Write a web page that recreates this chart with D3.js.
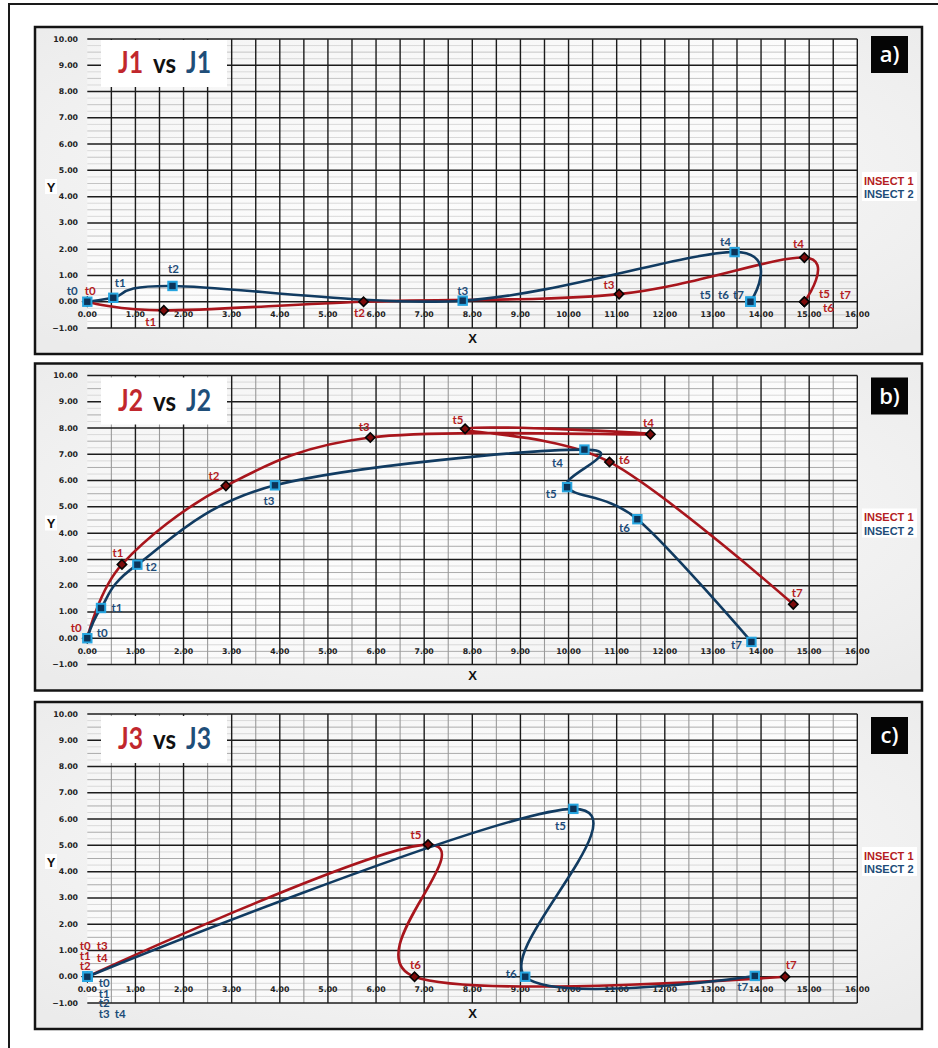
<!DOCTYPE html>
<html>
<head>
<meta charset="utf-8">
<script src="https://cdn.jsdelivr.net/npm/d3@7"></script>
<style>
  html, body { margin: 0; padding: 0; background: #ffffff; }
  svg { display: block; }
</style>
</head>
<body>
<div id="chart"></div>
<script>
// ---------------- DATA ----------------
const timeLabels = ["t0", "t1", "t2", "t3", "t4", "t5", "t6", "t7"];
const xTickValues = d3.range(0, 17, 1);
const yTickValues = d3.range(-1, 11, 1);
const panelNames = ["a)", "b)", "c)"];
const panelTitles = ["J1", "J2", "J3"];
const seriesNames = ["INSECT 1", "INSECT 2"];

// [x, y] positions at t0..t7
const j1Insect1 = [[0, 0], [1.59, -0.33], [5.74, 0], [11.05, 0.29], [14.9, 1.68], [14.9, 0], [14.9, 0], [14.9, 0]];
const j1Insect2 = [[0, 0], [0.54, 0.15], [1.77, 0.6], [7.8, 0.04], [13.45, 1.89], [13.78, 0], [13.78, 0], [13.78, 0]];
const j2Insect1 = [[0, 0], [0.72, 2.81], [2.88, 5.8], [5.88, 7.64], [11.7, 7.76], [7.85, 7.97], [10.85, 6.71], [14.67, 1.29]];
const j2Insect2 = [[0, 0], [0.285, 1.15], [1.04, 2.8], [3.9, 5.82], [10.33, 7.18], [9.97, 5.75], [11.43, 4.53], [13.8, -0.14]];
const j3Insect1 = [[0, 0], [0, 0], [0, 0], [0, 0], [0, 0], [7.08, 5.03], [6.8, 0], [14.5, 0]];
const j3Insect2 = [[0, 0], [0, 0], [0, 0], [0, 0], [0, 0], [10.1, 6.39], [9.1, 0], [13.87, 0.03]];

// ---------------- LAYOUT (label placement, pixel offsets) ----------------
const labelOffsets = [
  { red: [[3,-11],[-13,11],[-4,11],[-10,-10],[-6,-14],[20,-8],[24,6],[41,-7]],
    blue: [[-15,-11],[7,-15],[1,-17],[0,-10],[-9,-11],[-45,-7],[-27,-7],[-12,-7]] },
  { red: [[-11,-11],[-4,-12],[-12,-10],[-6,-11],[-2,-12],[-7,-9],[15,-2],[4,-12]],
    blue: [[15,-6],[16,-1],[14,2],[-6,15],[-27,13],[-16,6],[-13,8],[-15,3]] },
  { red: [[-2,-31],[-2,-21],[-2,-11],[15,-31],[15,-19],[-12,-10],[1,-12],[6,-12]],
    blue: [[17,6],[17,17],[17,26],[17,37],[33,37],[-13,17],[-14,-3],[-12,11]] }
];
const panelTops = [27, 363.5, 702];
const boxDy = [9, 14, 15];
const titleDy = [13, 14, 14];

const panelData = [
  { red: j1Insect1, blue: j1Insect2 },
  { red: j2Insect1, blue: j2Insect2 },
  { red: j3Insect1, blue: j3Insect2 }
];

// ---------------- STYLE ----------------
const RED_LINE = "#a8151c", BLUE_LINE = "#113b61";
const RED_TXT = "#b41c22", BLUE_TXT = "#1d4c78";
const W = 938, H = 1048;

const svg = d3.select("#chart").append("svg").attr("width", W).attr("height", H);
const defs = svg.append("defs");
const pg = defs.append("radialGradient").attr("id", "panelGrad").attr("cx", "50%").attr("cy", "45%").attr("r", "70%");
pg.append("stop").attr("offset", "0%").attr("stop-color", "#fdfdfd");
pg.append("stop").attr("offset", "100%").attr("stop-color", "#ebebeb");
const ag = defs.append("linearGradient").attr("id", "plotGrad").attr("x1", 0).attr("y1", 0).attr("x2", 1).attr("y2", 1);
ag.append("stop").attr("offset", "0%").attr("stop-color", "#f4f4f4");
ag.append("stop").attr("offset", "50%").attr("stop-color", "#fcfcfc");
ag.append("stop").attr("offset", "100%").attr("stop-color", "#f0f0f0");

svg.append("rect").attr("width", W).attr("height", H).attr("fill", "#ffffff");
// outer frame (left/top)
svg.append("path").attr("d", `M9,${H} V4 H${W}`).attr("fill", "none").attr("stroke", "#1a1a1a").attr("stroke-width", 2);

const x = d3.scaleLinear().domain([0, 16]).range([87.3, 857.3]);
const fmt = d3.format(".2f");

// consecutive identical positions (insect standing still) collapse to one path vertex
function pathPoints(arr) {
  return arr.filter((d, k) => k === 0 || d[0] !== arr[k - 1][0] || d[1] !== arr[k - 1][1]);
}

panelData.forEach((pd, i) => {
  const T = panelTops[i];
  const y = d3.scaleLinear().domain([-1, 10]).range([T + 301, T + 12]);
  const g = svg.append("g");

  g.append("rect").attr("x", 35).attr("y", T).attr("width", 887).attr("height", 327)
    .attr("fill", "url(#panelGrad)").attr("stroke", "#141414").attr("stroke-width", 2.5);

  g.append("rect").attr("x", x(0)).attr("y", y(10)).attr("width", x(16) - x(0)).attr("height", y(-1) - y(10))
    .attr("fill", "url(#plotGrad)");

  const grid = g.append("g");
  d3.range(-1, 10.001, 0.25).forEach(v => {
    const r = Math.round(v * 4) / 4;
    if (Math.abs(r - Math.round(r)) < 1e-6) return;
    const half = Math.abs(r * 2 - Math.round(r * 2)) < 1e-6;
    grid.append("line").attr("x1", x(0)).attr("x2", x(16)).attr("y1", y(r)).attr("y2", y(r))
      .attr("stroke", half ? (i === 0 ? "#c4c4c4" : "#ababab") : "#d9d9d9").attr("stroke-width", 1);
  });
  d3.range(0.5, 16.001, 0.5).forEach(v => {
    const isInt = Math.abs(v - Math.round(v)) < 1e-6;
    const dark = i === 0 || isInt;
    grid.append("line").attr("x1", x(v)).attr("x2", x(v)).attr("y1", y(10)).attr("y2", y(-1))
      .attr("stroke", dark ? "#1c1c1c" : "#9a9a9a").attr("stroke-width", dark ? 1.4 : 1.1);
  });
  yTickValues.forEach(v => {
    grid.append("line").attr("x1", x(0)).attr("x2", x(16)).attr("y1", y(v)).attr("y2", y(v))
      .attr("stroke", "#1c1c1c").attr("stroke-width", 1.5);
  });

  g.append("g").selectAll("text").data(yTickValues).join("text")
    .attr("x", 78).attr("y", d => y(d)).attr("text-anchor", "end").attr("dominant-baseline", "central")
    .attr("font-family", "DejaVu Sans").attr("font-weight", "bold").attr("font-size", 7.8).attr("fill", "#222")
    .text(d => fmt(d));
  g.append("g").selectAll("text").data(xTickValues).join("text")
    .attr("x", d => x(d)).attr("y", y(-0.5)).attr("text-anchor", "middle").attr("dominant-baseline", "central")
    .attr("font-family", "DejaVu Sans").attr("font-weight", "bold").attr("font-size", 7.8).attr("fill", "#222")
    .text(d => fmt(d));

  const ty = T + titleDy[i];
  g.append("rect").attr("x", 101).attr("y", ty).attr("width", 126).attr("height", 47).attr("fill", "#ffffff");
  const tt = g.append("g").attr("font-family", "Lato").attr("font-weight", "bold").attr("font-size", 30);
  tt.append("text").attr("x", 118).attr("y", ty + 33).attr("fill", "#c1272d")
    .attr("textLength", 25).attr("lengthAdjust", "spacingAndGlyphs").text(panelTitles[i]);
  tt.append("text").attr("x", 153).attr("y", ty + 33).attr("fill", "#111").attr("font-size", 27)
    .attr("textLength", 23).attr("lengthAdjust", "spacingAndGlyphs").text("vs");
  tt.append("text").attr("x", 186).attr("y", ty + 33).attr("fill", "#1f4e79")
    .attr("textLength", 25).attr("lengthAdjust", "spacingAndGlyphs").text(panelTitles[i]);

  const by = T + boxDy[i];
  g.append("rect").attr("x", 871).attr("y", by).attr("width", 37).attr("height", 37).attr("fill", "#050505");
  g.append("text").attr("x", 889.5).attr("y", by + 26).attr("text-anchor", "middle")
    .attr("font-family", "Open Sans").attr("font-weight", 600).attr("font-size", 22).attr("fill", "#fff")
    .text(panelNames[i]);

  g.append("rect").attr("x", 862).attr("y", T + 145).attr("width", 55).attr("height", 29).attr("fill", "#fff");
  g.append("text").attr("x", 864).attr("y", T + 157.5).attr("font-family", "Liberation Sans").attr("font-weight", "bold")
    .attr("font-size", 11).attr("fill", RED_TXT).text(seriesNames[0]);
  g.append("text").attr("x", 864).attr("y", T + 171).attr("font-family", "Liberation Sans").attr("font-weight", "bold")
    .attr("font-size", 11).attr("fill", BLUE_TXT).text(seriesNames[1]);

  g.append("rect").attr("x", 45).attr("y", T + 152).attr("width", 12).attr("height", 15).attr("fill", "#fff");
  g.append("text").attr("x", 51).attr("y", T + 160).attr("text-anchor", "middle").attr("dominant-baseline", "central")
    .attr("font-family", "Liberation Sans").attr("font-weight", "bold").attr("font-size", 13).attr("fill", "#111").text("Y");
  g.append("text").attr("x", 472.5).attr("y", T + 311.5).attr("text-anchor", "middle").attr("dominant-baseline", "central")
    .attr("font-family", "Liberation Sans").attr("font-weight", "bold").attr("font-size", 13).attr("fill", "#111").text("X");

  const line = d3.line().x(d => x(d[0])).y(d => y(d[1])).curve(d3.curveCardinal.tension(0));
  g.append("path").attr("d", line(pathPoints(pd.red))).attr("fill", "none").attr("stroke", RED_LINE).attr("stroke-width", 2.6)
    .attr("stroke-linejoin", "round").attr("stroke-linecap", "round");
  g.append("path").attr("d", line(pathPoints(pd.blue))).attr("fill", "none").attr("stroke", BLUE_LINE).attr("stroke-width", 2.6)
    .attr("stroke-linejoin", "round").attr("stroke-linecap", "round");

  g.append("g").selectAll("rect").data(pd.red).join("rect")
    .attr("x", -3.3).attr("y", -3.3).attr("width", 6.6).attr("height", 6.6)
    .attr("transform", d => `translate(${x(d[0])},${y(d[1])}) rotate(45)`)
    .attr("fill", "#7d0b0b").attr("stroke", "#050505").attr("stroke-width", 1.6);
  g.append("g").selectAll("rect").data(pd.blue).join("rect")
    .attr("x", d => x(d[0]) - 4.2).attr("y", d => y(d[1]) - 4.2).attr("width", 8.4).attr("height", 8.4)
    .attr("fill", "#0c3358").attr("stroke", "#27a5e0").attr("stroke-width", 2);

  const lg = g.append("g").attr("font-family", "Lato").attr("font-weight", "bold").attr("font-size", 11.5);
  pd.red.forEach((d, k) => {
    const o = labelOffsets[i].red[k];
    lg.append("text").attr("x", x(d[0]) + o[0]).attr("y", y(d[1]) + o[1]).attr("text-anchor", "middle")
      .attr("dominant-baseline", "central").attr("fill", RED_TXT).text(timeLabels[k]);
  });
  pd.blue.forEach((d, k) => {
    const o = labelOffsets[i].blue[k];
    lg.append("text").attr("x", x(d[0]) + o[0]).attr("y", y(d[1]) + o[1]).attr("text-anchor", "middle")
      .attr("dominant-baseline", "central").attr("fill", BLUE_TXT).text(timeLabels[k]);
  });
});
</script>
</body>
</html>
